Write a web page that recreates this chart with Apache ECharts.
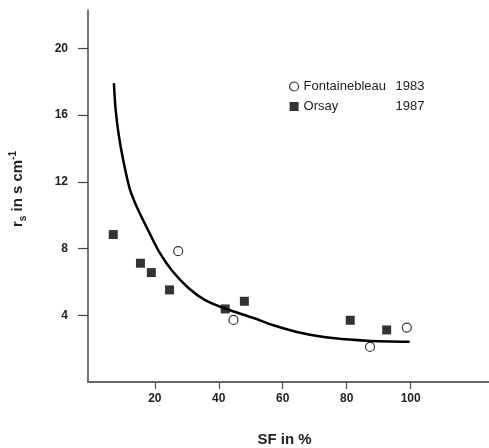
<!DOCTYPE html>
<html>
<head>
<meta charset="utf-8">
<script src="https://cdn.jsdelivr.net/npm/echarts@6/dist/echarts.min.js"></script>
<style>
html,body{margin:0;padding:0;background:#fff;}
#chart{width:489px;height:448px;}
</style>
</head>
<body>
<div id="chart"></div>
<script>
// ---- data ----
var xTicks = [20, 40, 60, 80, 100];
var yTicks = [4, 8, 12, 16, 20];

var fontainebleauName = 'Fontainebleau';
var fontainebleauYear = '1983';
var fontainebleauSF = [27.3, 44.6, 87.3, 98.8];
var fontainebleauRs = [7.84, 3.72, 2.10, 3.26];

var orsayName = 'Orsay';
var orsayYear = '1987';
var orsaySF = [7.0, 15.5, 18.9, 24.6, 42.0, 48.0, 81.1, 92.5];
var orsayRs = [8.84, 7.12, 6.56, 5.52, 4.38, 4.84, 3.70, 3.12];

// fitted curve, points
var curveSF = [7.2, 7.7, 8.7, 10.2, 12.2, 14.7, 18.1, 21.6, 25.6, 30.6, 35.6, 41.7, 51.1, 56.8, 66.3, 76.3, 86.3, 99.7];
var curveRs = [17.92, 16.42, 14.82, 13.22, 11.55, 10.35, 9.02, 7.72, 6.62, 5.62, 4.92, 4.42, 3.82, 3.42, 2.92, 2.62, 2.48, 2.42];

var xTitle = 'SF in %';

function zip(a, b) { return a.map(function (v, i) { return [v, b[i]]; }); }

var FONT = '"Liberation Sans", Arial, sans-serif';
var chart = echarts.init(document.getElementById('chart'), null, {renderer: 'canvas'});

var option = {
  animation: false,
  backgroundColor: '#fff',
  grid: {left: 88, right: 0, top: 10, bottom: 66, containLabel: false, outerBoundsMode: 'none'},
  xAxis: {
    type: 'value',
    min: -0.9, max: 124.5,
    splitLine: {show: false},
    axisLine: {show: true, onZero: false, lineStyle: {color: '#666', width: 2}},
    axisTick: {show: true, length: 7, customValues: xTicks, lineStyle: {color: '#555', width: 1.2}},
    axisLabel: {customValues: xTicks, margin: 11, fontFamily: FONT, fontWeight: 'bold', fontSize: 12, color: '#222'},
    name: xTitle,
    nameLocation: 'middle',
    nameGap: 50,
    nameTextStyle: {fontFamily: FONT, fontWeight: 'bold', fontSize: 15, color: '#222', padding: [0, 8, 0, 0]}
  },
  yAxis: {
    type: 'value',
    min: 0, max: 22.3,
    splitLine: {show: false},
    axisLine: {show: true, onZero: false, lineStyle: {color: '#444', width: 1.5}},
    axisTick: {show: true, length: 10, customValues: yTicks, lineStyle: {color: '#444', width: 1.2}},
    axisLabel: {customValues: yTicks, margin: 20, fontFamily: FONT, fontWeight: 'bold', fontSize: 12, color: '#222'}
  },
  legend: {
    orient: 'vertical',
    left: 284, top: 75,
    itemWidth: 9, itemHeight: 9,
    itemGap: 7,
    textStyle: {fontFamily: FONT, fontSize: 13, color: '#222',
      rich: {n: {width: 92, fontFamily: FONT, fontSize: 13, color: '#222'},
             y: {fontFamily: FONT, fontSize: 13, color: '#222'}}},
    formatter: function (name) {
      return '{n|' + name + '}{y|' + (name === fontainebleauName ? fontainebleauYear : orsayYear) + '}';
    },
    data: [
      {name: fontainebleauName, icon: 'circle', itemStyle: {color: '#fff', borderColor: '#000', borderWidth: 1.2}},
      {name: orsayName, icon: 'rect', itemStyle: {color: '#000', borderWidth: 0}}
    ]
  },
  graphic: [{
    type: 'text',
    x: 18, y: 189,
    rotation: Math.PI / 2,
    style: {
      text: '{b|r}{s|s}{b| in s cm}{p|-1}',
      align: 'center', verticalAlign: 'middle',
      rich: {
        b: {fontFamily: FONT, fontWeight: 'bold', fontSize: 15, fill: '#222', lineHeight: 20},
        s: {fontFamily: FONT, fontWeight: 'bold', fontSize: 10, fill: '#222', verticalAlign: 'bottom', lineHeight: 20},
        p: {fontFamily: FONT, fontWeight: 'bold', fontSize: 10, fill: '#222', verticalAlign: 'top', lineHeight: 20}
      }
    }
  }],
  series: [
    {
      name: 'curve', type: 'line', data: zip(curveSF, curveRs),
      smooth: 0.3, showSymbol: false, symbol: 'none',
      lineStyle: {color: '#000', width: 2.5}, z: 2, silent: true
    },
    {
      name: fontainebleauName, type: 'scatter', data: zip(fontainebleauSF, fontainebleauRs),
      symbol: 'circle', symbolSize: 9,
      itemStyle: {color: '#fff', borderColor: '#000', borderWidth: 1.2}, z: 3
    },
    {
      name: orsayName, type: 'scatter', data: zip(orsaySF, orsayRs),
      symbol: 'rect', symbolSize: 9,
      itemStyle: {color: '#000'}, z: 3
    }
  ]
};
chart.setOption(option);
</script>
</body>
</html>
